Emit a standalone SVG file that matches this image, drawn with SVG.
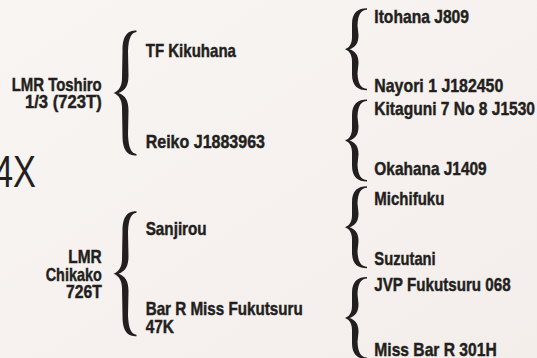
<svg xmlns="http://www.w3.org/2000/svg" width="537" height="358" viewBox="0 0 537 358">
  <style>
    .t { font-family: "Liberation Sans", Arial, sans-serif; font-weight: bold; font-size: 19px; fill: #231f20; stroke: #231f20; stroke-width: 0.45; }
    .r { text-anchor: end; }
    .big { font-family: "Liberation Sans", Arial, sans-serif; font-weight: normal; font-size: 45px; fill: #231f20; }
    .brace { fill: #231f20; }
  </style>
  <defs>
    <linearGradient id="bg" x1="0" y1="0" x2="1" y2="1">
      <stop offset="0" stop-color="#f8f5f2"/>
      <stop offset="1" stop-color="#f4eeeb"/>
    </linearGradient>
    <path id="braceBig" d="M23,0 C14,0 9,5 9,20 L8.5,48 C8.5,56 5,60.5 0,62.5 C5,64.5 8.5,69 8.5,77 L9,105 C9,120 14,125 23,125 L23,123.5 C18,123 15,118 14.5,104 L15,80 C15,70 12,65 5,62.5 C12,60 15,55 15,45 L14.5,21 C15,7 18,2 23,1.5 Z"/>
    <path id="braceSmall" d="M22,0 C13,0 7,4 7,16 L7,29 C7,36 4,39.5 0,41 C4,42.5 7,46 7,53 L7,66 C7,78 13,82 22,82 L22,80.5 C16,80 13,76 12.5,65 L13.5,55 C13.5,47 10.5,43 4.5,41 C10.5,39 13.5,35 13.5,27 L12.5,17 C13,6 16,2 22,1.5 Z"/>
  </defs>
  <rect x="0" y="0" width="537" height="358" fill="url(#bg)"/>

  <g id="label-4x">
    <text class="big" x="-6" y="187" textLength="42" lengthAdjust="spacingAndGlyphs">4X</text>
  </g>

  <g id="connectors">
    <use href="#braceBig" class="brace" transform="translate(113.5,30.5)"/>
    <use href="#braceBig" class="brace" transform="translate(113.5,211.3)"/>
    <use href="#braceSmall" class="brace" transform="translate(345,8.3)"/>
    <use href="#braceSmall" class="brace" transform="translate(345,99.5)"/>
    <use href="#braceSmall" class="brace" transform="translate(345,186.3)"/>
    <use href="#braceSmall" class="brace" transform="translate(345,277)"/>
  </g>

  <g id="lmr-toshiro">
    <text class="t r" x="101.7" y="90.7" textLength="90" lengthAdjust="spacingAndGlyphs">LMR Toshiro</text>
    <text class="t r" x="101.7" y="108.3" textLength="76.7" lengthAdjust="spacingAndGlyphs">1/3 (723T)</text>
  </g>
  <g id="lmr-chikako">
    <text class="t r" x="101.7" y="263" textLength="33.4" lengthAdjust="spacingAndGlyphs">LMR</text>
    <text class="t r" x="101.7" y="280.5" textLength="56" lengthAdjust="spacingAndGlyphs">Chikako</text>
    <text class="t r" x="101.7" y="298.3" textLength="35.7" lengthAdjust="spacingAndGlyphs">726T</text>
  </g>

  <g id="tf-kikuhana">
    <text class="t" x="145.7" y="56.7" textLength="90.3" lengthAdjust="spacingAndGlyphs">TF Kikuhana</text>
  </g>
  <g id="reiko">
    <text class="t" x="145.7" y="147.7" textLength="119.3" lengthAdjust="spacingAndGlyphs">Reiko J1883963</text>
  </g>
  <g id="sanjirou">
    <text class="t" x="145.7" y="234.7" textLength="61" lengthAdjust="spacingAndGlyphs">Sanjirou</text>
  </g>
  <g id="bar-r-miss-fukutsuru">
    <text class="t" x="145.7" y="315.3" textLength="157" lengthAdjust="spacingAndGlyphs">Bar R Miss Fukutsuru</text>
    <text class="t" x="145.7" y="333" textLength="28.3" lengthAdjust="spacingAndGlyphs">47K</text>
  </g>

  <g id="itohana">
    <text class="t" x="374.3" y="22.7" textLength="94.7" lengthAdjust="spacingAndGlyphs">Itohana J809</text>
  </g>
  <g id="nayori">
    <text class="t" x="374.3" y="91.7" textLength="129" lengthAdjust="spacingAndGlyphs">Nayori 1 J182450</text>
  </g>
  <g id="kitaguni">
    <text class="t" x="374.3" y="115" textLength="160.7" lengthAdjust="spacingAndGlyphs">Kitaguni 7 No 8 J1530</text>
  </g>
  <g id="okahana">
    <text class="t" x="374.3" y="175" textLength="112.4" lengthAdjust="spacingAndGlyphs">Okahana J1409</text>
  </g>
  <g id="michifuku">
    <text class="t" x="374.3" y="205.3" textLength="70" lengthAdjust="spacingAndGlyphs">Michifuku</text>
  </g>
  <g id="suzutani">
    <text class="t" x="374.3" y="265.3" textLength="61.4" lengthAdjust="spacingAndGlyphs">Suzutani</text>
  </g>
  <g id="jvp-fukutsuru">
    <text class="t" x="374.3" y="291.3" textLength="136.4" lengthAdjust="spacingAndGlyphs">JVP Fukutsuru 068</text>
  </g>
  <g id="miss-bar-r">
    <text class="t" x="374.3" y="356" textLength="122.4" lengthAdjust="spacingAndGlyphs">Miss Bar R 301H</text>
  </g>
</svg>
